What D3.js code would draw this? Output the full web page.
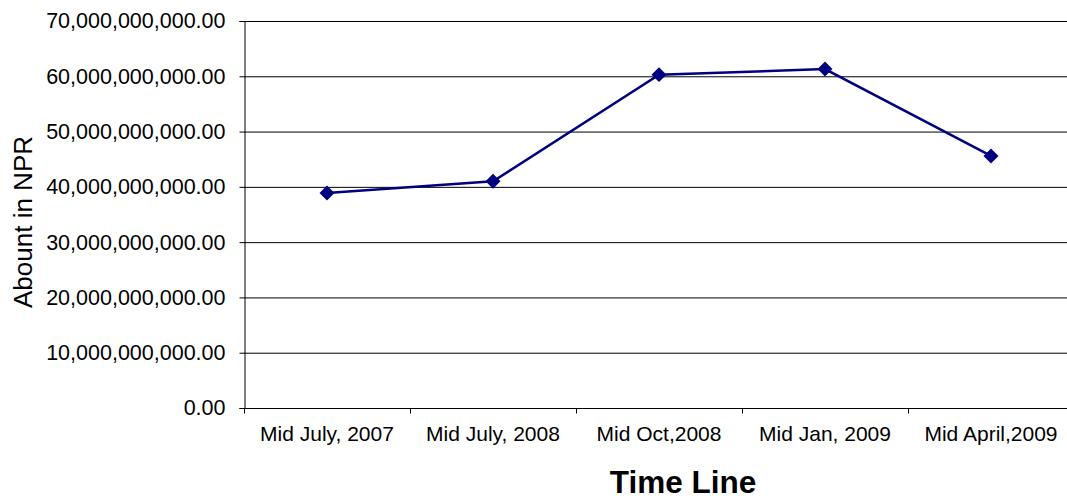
<!DOCTYPE html>
<html>
<head>
<meta charset="utf-8">
<script src="https://cdn.jsdelivr.net/npm/d3@7"></script>
<style>
  html, body { margin: 0; padding: 0; background: #fff; }
  svg { display: block; font-family: "Liberation Sans", Arial, sans-serif; }
</style>
</head>
<body>
<svg id="chart" width="1067" height="500"></svg>
<script>
// Amount over time (NPR)
const categories = ["Mid July, 2007", "Mid July, 2008", "Mid Oct,2008", "Mid Jan, 2009", "Mid April,2009"];
const amounts = [38900000000, 41000000000, 60300000000, 61300000000, 45600000000];
const yTicks = [0, 10000000000, 20000000000, 30000000000, 40000000000, 50000000000, 60000000000, 70000000000];

const svg = d3.select("#chart");
const plot = { left: 244, right: 1074, top: 21, bottom: 408 };
const font = "'Liberation Sans', Arial, sans-serif";

const x = d3.scaleBand().domain(categories).range([plot.left, plot.right]).padding(0);
const y = d3.scaleLinear().domain([0, 70000000000]).range([plot.bottom, plot.top]);

const fmt = v => d3.format(",.2f")(v);

// horizontal gridlines
svg.append("g")
  .selectAll("line")
  .data(yTicks.filter(d => d > 0))
  .join("line")
  .attr("x1", plot.left).attr("x2", plot.right)
  .attr("y1", d => y(d) + 0.5).attr("y2", d => y(d) + 0.5)
  .attr("stroke", "#000").attr("stroke-width", 1);

// y axis
const yAxis = svg.append("g")
  .attr("transform", `translate(${plot.left + 0.5},0)`)
  .call(d3.axisLeft(y).tickValues(yTicks).tickFormat(fmt).tickSize(5).tickPadding(14));
yAxis.attr("font-size", null).attr("font-family", null);
yAxis.select(".domain").attr("stroke", "#000");
yAxis.selectAll(".tick line").attr("stroke", "#000");
yAxis.selectAll(".tick text")
  .attr("fill", "#000")
  .style("font-size", "21.5px")
  .style("font-family", font);

// x axis with ticks at category boundaries
const xAxis = svg.append("g")
  .attr("transform", `translate(0,${plot.bottom + 0.5})`);
xAxis.append("line")
  .attr("x1", plot.left).attr("x2", plot.right)
  .attr("stroke", "#000");
xAxis.selectAll("line.tick")
  .data(categories)
  .join("line")
  .attr("class", "tick")
  .attr("x1", d => x(d) + 0.5).attr("x2", d => x(d) + 0.5)
  .attr("y1", 0).attr("y2", 5)
  .attr("stroke", "#000");
xAxis.selectAll("text")
  .data(categories)
  .join("text")
  .attr("x", d => x(d) + x.bandwidth() / 2)
  .attr("y", 32.5)
  .attr("text-anchor", "middle")
  .style("font-size", "21px")
  .style("font-family", font)
  .attr("fill", "#000")
  .text(d => d);

// axis titles
svg.append("text")
  .attr("transform", "translate(32,222) rotate(-90)")
  .attr("text-anchor", "middle")
  .style("font-size", "26px")
  .style("font-family", font)
  .attr("fill", "#000")
  .text("Abount in NPR");

svg.append("text")
  .attr("x", 683)
  .attr("y", 493)
  .attr("text-anchor", "middle")
  .style("font-size", "31.5px")
  .style("font-weight", "bold")
  .style("font-family", font)
  .attr("fill", "#000")
  .text("Time Line");

// series line
const cx = d => x(d) + x.bandwidth() / 2;
svg.append("path")
  .datum(categories.map((c, i) => [cx(c), y(amounts[i])]))
  .attr("d", d3.line())
  .attr("fill", "none")
  .attr("stroke", "#000080")
  .attr("stroke-width", 2.5);

// diamond markers
svg.append("g")
  .selectAll("path")
  .data(categories.map((c, i) => ({c, v: amounts[i]})))
  .join("path")
  .attr("d", d3.symbol(d3.symbolSquare, 112))
  .attr("transform", d => `translate(${cx(d.c)},${y(d.v)}) rotate(45)`)
  .attr("fill", "#000080");
</script>
</body>
</html>
